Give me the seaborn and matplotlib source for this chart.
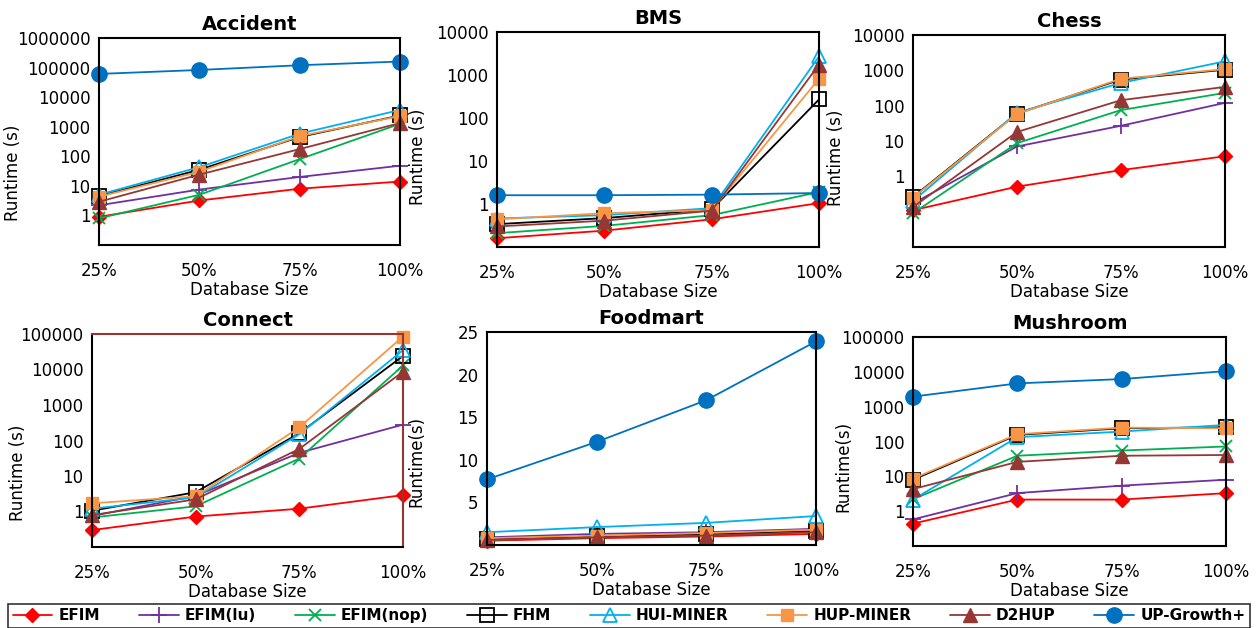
import numpy as np
import pandas as pd
import matplotlib
matplotlib.use("Agg")
import matplotlib.pyplot as plt
import seaborn as sns
from matplotlib.ticker import FixedLocator, NullLocator

nan = np.nan
sizes = ["25%", "50%", "75%", "100%"]
algorithms = ["EFIM", "EFIM(lu)", "EFIM(nop)", "FHM", "HUI-MINER", "HUP-MINER", "D2HUP", "UP-Growth+"]

accident = {
    "EFIM": [0.9, 3.2, 8, 14],
    "EFIM(lu)": [2.2, 7.5, 20, 48],
    "EFIM(nop)": [0.8, 5, 80, 1250],
    "FHM": [4.5, 35, 450, 2400],
    "HUI-MINER": [5, 43, 580, 3700],
    "HUP-MINER": [4.3, 30, 480, 2300],
    "D2HUP": [2.9, 24, 175, 1330],
    "UP-Growth+": [61000, 83000, 120000, 160000],
}
bms = {
    "EFIM": [0.16, 0.24, 0.44, 1.05],
    "EFIM(lu)": [nan, nan, nan, nan],
    "EFIM(nop)": [0.21, 0.31, 0.55, 1.9],
    "FHM": [0.34, 0.47, 0.75, 270],
    "HUI-MINER": [0.46, 0.55, 0.8, 2700],
    "HUP-MINER": [0.44, 0.61, 0.72, 820],
    "D2HUP": [0.30, 0.41, 0.7, 1750],
    "UP-Growth+": [1.6, 1.6, 1.65, 1.8],
}
chess = {
    "EFIM": [0.11, 0.51, 1.5, 3.7],
    "EFIM(lu)": [0.17, 7, 27, 120],
    "EFIM(nop)": [0.09, 8.7, 75, 230],
    "FHM": [0.26, 60, 550, 1040],
    "HUI-MINER": [0.2, 63, 440, 1800],
    "HUP-MINER": [0.25, 58, 580, 1080],
    "D2HUP": [0.135, 18, 143, 340],
    "UP-Growth+": [nan, nan, nan, nan],
}
connect = {
    "EFIM": [0.3, 0.72, 1.2, 2.9],
    "EFIM(lu)": [0.75, 2.75, 45, 280],
    "EFIM(nop)": [0.68, 1.4, 31, 13000],
    "FHM": [1.05, 3.5, 160, 24000],
    "HUI-MINER": [1.2, 2.5, 150, 35000],
    "HUP-MINER": [1.7, 2.7, 235, 85000],
    "D2HUP": [0.79, 2.2, 58, 8700],
    "UP-Growth+": [nan, nan, nan, nan],
}
foodmart = {
    "EFIM": [0.5, 0.8, 1.0, 1.3],
    "EFIM(lu)": [0.9, 1.3, 1.5, 1.9],
    "EFIM(nop)": [0.6, 0.9, 1.2, 1.6],
    "FHM": [0.7, 1.0, 1.3, 1.7],
    "HUI-MINER": [1.5, 2.1, 2.6, 3.4],
    "HUP-MINER": [0.8, 1.1, 1.4, 1.8],
    "D2HUP": [0.6, 0.9, 1.1, 1.5],
    "UP-Growth+": [7.7, 12.1, 17.0, 23.9],
}
mushroom = {
    "EFIM": [0.44, 2.15, 2.15, 3.3],
    "EFIM(lu)": [0.58, 3.3, 5.4, 8],
    "EFIM(nop)": [2.2, 39, 55, 72],
    "FHM": [8, 155, 240, 255],
    "HUI-MINER": [2.15, 133, 193, 300],
    "HUP-MINER": [8.6, 162, 250, 240],
    "D2HUP": [4.3, 26, 39, 41],
    "UP-Growth+": [1940, 4660, 6200, 10500],
}

styles = {
    "EFIM": dict(color="#FF0000", marker="D", markersize=7, mfc="#FF0000", mec="#FF0000", mew=1.0),
    "EFIM(lu)": dict(color="#7030A0", marker="+", markersize=11, mec="#7030A0", mew=1.3),
    "EFIM(nop)": dict(color="#00B050", marker="x", markersize=9, mec="#00B050", mew=1.3),
    "FHM": dict(color="#000000", marker="s", markersize=10, mfc="none", mec="#000000", mew=1.3),
    "HUI-MINER": dict(color="#00B0F0", marker="^", markersize=10, mfc="none", mec="#00B0F0", mew=1.3),
    "HUP-MINER": dict(color="#F79646", marker="s", markersize=8, mfc="#F79646", mec="#F79646", mew=1.0),
    "D2HUP": dict(color="#953735", marker="^", markersize=10, mfc="#953735", mec="#953735", mew=1.0),
    "UP-Growth+": dict(color="#0070C0", marker="o", markersize=11, mfc="#0070C0", mec="#0070C0", mew=1.0),
}

sns.set_theme(style="white")
plt.rcParams["font.family"] = ["DejaVu Sans"]
plt.rcParams["text.color"] = "black"
plt.rcParams["axes.labelcolor"] = "black"
plt.rcParams["xtick.color"] = "black"
plt.rcParams["ytick.color"] = "black"

fig = plt.figure(figsize=(12.58, 6.28), dpi=100)
W, H = 1258, 628
panels = [
    ("Accident", accident, "Runtime (s)", (99, 38, 400, 245), "log", (0.1, 1e6), (-0.256, 0.35)),
    ("BMS", bms, "Runtime (s)", (497, 32, 819, 247), "log", (0.1, 1e4), (-0.217, 0.42)),
    ("Chess", chess, "Runtime (s)", (913, 35, 1225, 247), "log", (0.01, 1e4), (-0.218, 0.42)),
    ("Connect", connect, "Runtime (s)", (92, 334, 403, 547), "log", (0.1, 1e5), (-0.209, 0.35)),
    ("Foodmart", foodmart, "Runtime(s)", (487, 332, 816, 545), "linear", (0, 25), (-0.188, 0.39)),
    ("Mushroom", mushroom, "Runtime(s)", (913, 337, 1226, 546), "log", (0.1, 1e5), (-0.195, 0.38)),
]

legend_handles = None
for title, data, ylabel, (l, t, r, b), scale, ylim, ylab_xy in panels:
    ax = fig.add_axes([l / W, (H - b) / H, (r - l) / W, (b - t) / H])
    rows = []
    for alg in algorithms:
        for i, v in enumerate(data[alg]):
            rows.append({"pos": i, "runtime": v, "alg": alg})
    df = pd.DataFrame(rows)
    for alg in algorithms:
        sub = df[df["alg"] == alg].dropna()
        if sub.empty:
            continue
        sns.lineplot(data=sub, x="pos", y="runtime", ax=ax, label=alg, lw=1.3,
                     clip_on=False, **styles[alg])
    ax.set_yscale(scale)
    ax.set_ylim(*ylim)
    ax.set_xlim(0, 3)
    ax.set_xticks(range(len(sizes)))
    ax.set_xticklabels(sizes, fontsize=12)
    if scale == "log":
        lo, hi = int(np.log10(ylim[0])), int(np.log10(ylim[1]))
        decs = [10.0 ** k for k in range(lo, hi + 1)]
        ax.yaxis.set_major_locator(FixedLocator(decs))
        ax.set_yticklabels([f"{int(d)}" if d >= 1 else "" for d in decs], fontsize=12)
        ax.yaxis.set_minor_locator(NullLocator())
    else:
        ax.set_yticks([0, 5, 10, 15, 20, 25])
        ax.set_yticklabels(["", "5", "10", "15", "20", "25"], fontsize=12)
    ax.set_title(title, fontsize=14, fontweight="bold", pad=6, color="black")
    ax.set_xlabel("Database Size", fontsize=12, labelpad=1)
    ax.set_ylabel(ylabel, fontsize=12)
    ax.yaxis.set_label_coords(*ylab_xy)
    ax.tick_params(axis="x", direction="in", length=5, width=1.2, pad=12, colors="black")
    ax.tick_params(axis="y", direction="inout", length=6, width=1.2, pad=3, colors="black")
    for s in ax.spines.values():
        s.set_color("black")
        s.set_linewidth(1.5)
    if title == "Connect":
        ax.spines["top"].set_color("#953735")
        ax.spines["right"].set_color("#953735")
    ax.grid(False)
    if legend_handles is None:
        legend_handles, legend_labels = ax.get_legend_handles_labels()
    if ax.get_legend() is not None:
        ax.get_legend().remove()

leg = fig.legend(legend_handles, legend_labels, ncol=8, loc="lower left",
                 bbox_to_anchor=(8 / W, 0.0, 1242 / W, 0.04), mode="expand",
                 frameon=True, fancybox=False,
                 edgecolor="black", prop={"size": 11, "weight": "bold"},
                 handlelength=2.6, handletextpad=0.4, columnspacing=1.0,
                 borderpad=0.3, borderaxespad=0.0)
leg.get_frame().set_linewidth(1.2)

fig.savefig("out.png", dpi=100)
